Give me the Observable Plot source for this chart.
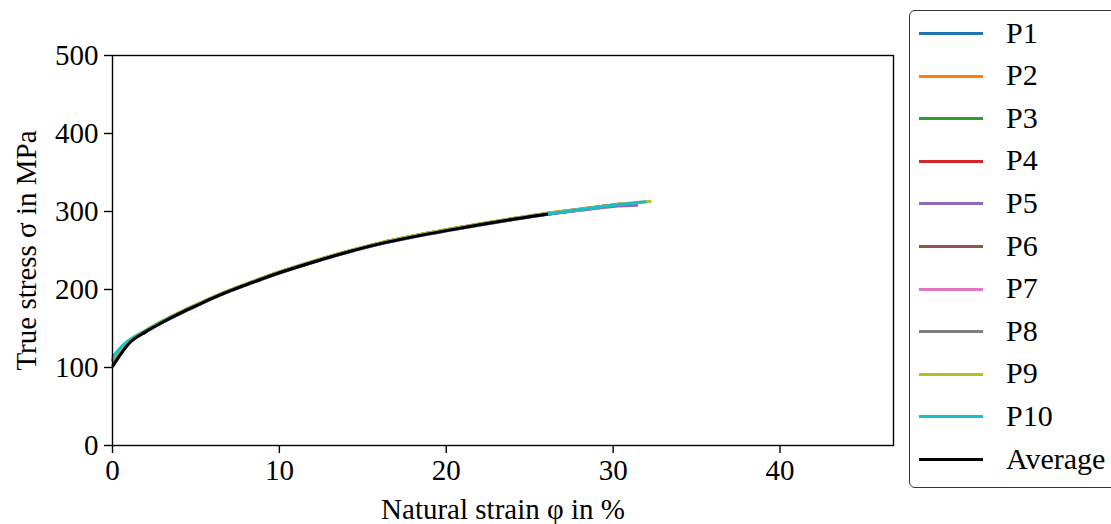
<!DOCTYPE html>
<html>
<head>
<meta charset="utf-8">
<script src="https://cdn.jsdelivr.net/npm/d3@7"></script>
<script src="https://cdn.jsdelivr.net/npm/@observablehq/plot@0.6"></script>
<style>
  html, body { margin: 0; padding: 0; background: #fff; }
  #wrap { position: relative; width: 1111px; height: 524px; overflow: hidden; font-family: "Liberation Serif", "DejaVu Serif", serif; }
  #wrap svg text { font-family: "Liberation Serif", "DejaVu Serif", serif; }
  #legend { position: absolute; left: 909px; top: 10px; width: 210px; height: 478px; border: 1.5px solid #333; border-radius: 6px; box-sizing: border-box; background: #fff; }
  .item { position: absolute; left: 0; height: 30px; }
  .swatch { position: absolute; left: 9px; width: 64px; height: 3px; }
  .lab { position: absolute; left: 96px; font-size: 30px; line-height: 34px; top: -18px; white-space: nowrap; color: #000; }
</style>
</head>
<body>
<div id="wrap"></div>
<script>
// ---- data ----
const seriesNames = ["P1","P2","P3","P4","P5","P6","P7","P8","P9","P10","Average"];
const seriesColors = ["#1f77b4","#ff7f0e","#2ca02c","#d62728","#9467bd","#8c564b","#e377c2","#7f7f7f","#bcbd22","#17becf","#000000"];

const strainGrid = [0,0.5,1,2,3,4,5,6,7,8,9,10,12,14,16,18,20,22,24,26,28,30];

const P1  = [108,122,133,146,158,169,179,189,198,206,214,221.5,235,247.5,258.5,267.5,275.5,283,290,296.5,302.5,308];
const P2  = [110,124,134,147,159,170,180,190,199,207,215,222.5,236,248.5,259.5,268.5,276.5,284,291,297.5,303,308.5];
const P3  = [109,123,133,146,158,169,179,189,198,206,214,221.5,235,247.5,258.5,267.5,275.5,283,290,296.5,302.5,307.5];
const P4  = [107,121,132,146,158,169,179,189,198,206,214,221.5,235,247.5,258.5,267.5,275.5,283,290,296.5,302];
const P5  = [108,122,133,146,158,168.5,178.5,188.5,197.5,205.5,213.5,221,234.5,247,258,267,275,282.5,289.5,296,301.5,306.5];
const P6  = [109,123,133,147,159,170,180,190,199,207,215,222.5,236,248.5,259.5,268.5,276.5,284,291,297.5,303,308.5];
const P7  = [108,122,133,146,158,169,179,189,198,206,214,221.5,235,247.5,258.5,267.5,275.5,283,290,296.5,302];
const P8  = [108,122,132,146,158,169,179,189,198,206,214,221.5,235,247.5,258.5,267.5,275.5,283,290,296.5,302];
const P9  = [111,125,135,148,160,170.5,180.5,190,199,207,215,222.5,236,248.5,259.5,268.5,276.5,284,291,297.5,303,308.5];
const P10 = [113,126,135,147,159,169.5,179.5,189,198,206,214,221.5,235,247.5,258.5,267.5,275.5,283,290,296.5,302.5,308];
const Average = [101,117,131,146,158,169,179,189,198,206,214,221.5,235,247.5,258.5,267.5,275.5,283,290,296.5];

// final (end) points of each test: [strain %, stress MPa]
const endPoints = {
  P1: [31.2, 309.5], P2: [30.5, 310], P3: [30.1, 307.8], P4: [29.0, 304.8], P5: [31.5, 308],
  P6: [30.3, 309.2], P7: [28.6, 303.7], P8: [28.8, 304.3], P9: [32.3, 313], P10: [32.0, 312.5], Average: [26.1, 296.8]
};

const xTicks = [0,10,20,30,40];
const yTicks = [0,100,200,300,400,500];

// ---- build table ----
const stressBy = {P1,P2,P3,P4,P5,P6,P7,P8,P9,P10,Average};
const rows = [];
seriesNames.forEach((name, si) => {
  const vals = stressBy[name];
  vals.forEach((v, i) => rows.push({series: name, order: si, strain: strainGrid[i], stress: v}));
  const e = endPoints[name];
  rows.push({series: name, order: si, strain: e[0], stress: e[1]});
});

const FS = 29;
const chart = Plot.plot({
  width: 1111,
  height: 524,
  marginLeft: 112,
  marginRight: 218,
  marginTop: 55,
  marginBottom: 79,
  style: {fontFamily: "'Liberation Serif', 'DejaVu Serif', serif", fontSize: FS + "px", color: "#000", background: "transparent", overflow: "visible"},
  x: {domain: [0, 46.8]},
  y: {domain: [0, 500]},
  color: {domain: seriesNames, range: seriesColors},
  marks: [
    Plot.line(rows, {x: "strain", y: "stress", z: "series", stroke: "series", strokeWidth: 3, strokeLinejoin: "round", strokeLinecap: "butt", curve: "monotone-x"}),
    Plot.frame({stroke: "#000", strokeWidth: 1.4}),
    Plot.axisX({ticks: xTicks, tickSize: 8, tickPadding: 6, tickFormat: d => String(d), label: null, stroke: "#000", strokeWidth: 1.4, fontSize: FS}),
    Plot.axisY({ticks: yTicks, tickSize: 8, tickPadding: 6, tickFormat: d => String(d), label: null, stroke: "#000", strokeWidth: 1.4, fontSize: FS}),
    Plot.text(["Natural strain φ in %"], {frameAnchor: "bottom", dy: 73, fontSize: FS, fill: "#000", lineAnchor: "bottom"}),
    Plot.text(["True stress σ in MPa"], {frameAnchor: "left", dx: -86, rotate: -90, fontSize: FS, fill: "#000", textAnchor: "middle"})
  ]
});

const wrap = document.getElementById("wrap");
wrap.appendChild(chart);

// legend
const legend = document.createElement("div");
legend.id = "legend";
seriesNames.forEach((name, i) => {
  const it = document.createElement("div");
  it.className = "item";
  it.style.top = (22.5 + i * 42.6) + "px";
  const sw = document.createElement("div");
  sw.className = "swatch";
  sw.style.background = seriesColors[i];
  sw.style.top = "-1.5px";
  const lb = document.createElement("div");
  lb.className = "lab";
  lb.textContent = name;
  it.appendChild(sw);
  it.appendChild(lb);
  legend.appendChild(it);
});
wrap.appendChild(legend);
</script>
</body>
</html>
